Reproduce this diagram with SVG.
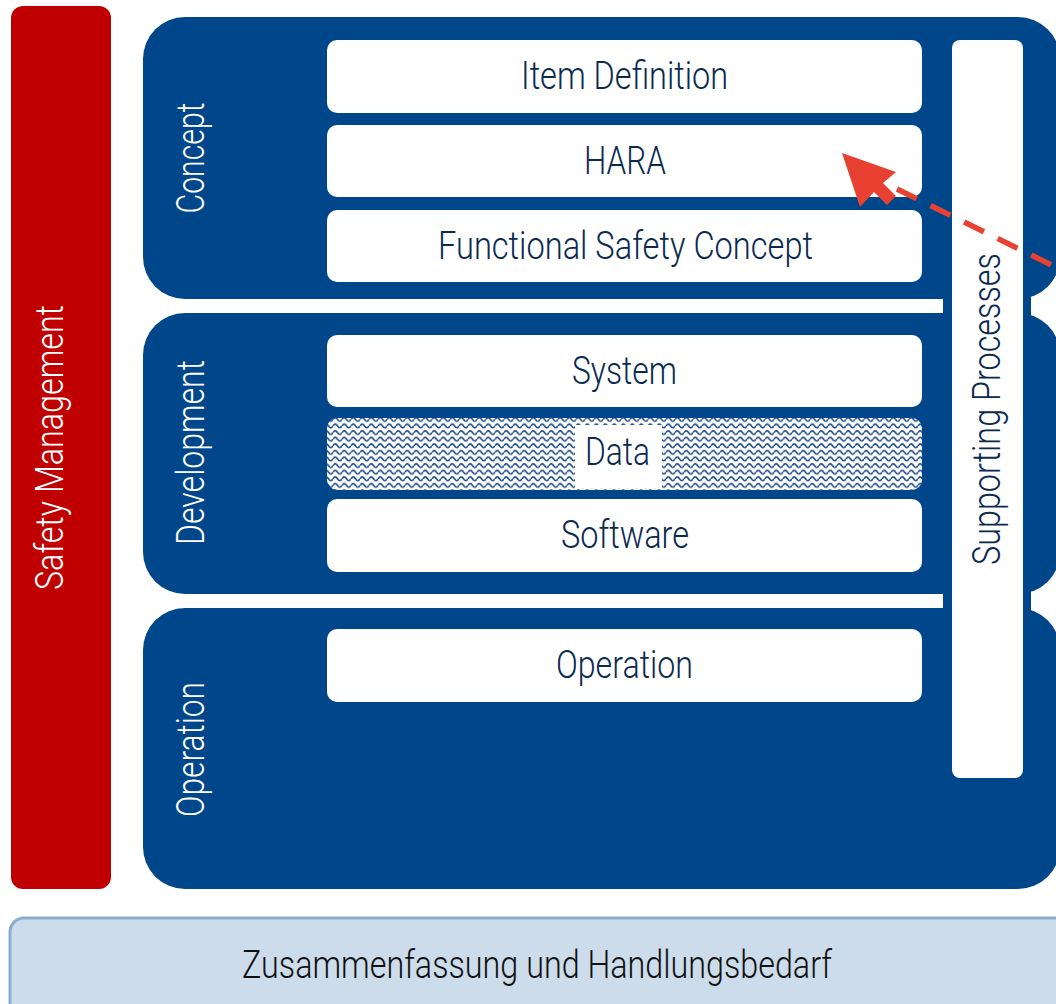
<svg xmlns="http://www.w3.org/2000/svg" width="1056" height="1004" viewBox="0 0 1056 1004">
<defs>
<style>
.panel{fill:#00468A}
.box{fill:#ffffff}
.lbl{font-family:Roboto,"Liberation Sans",sans-serif;font-weight:300;font-size:38px;fill:#0B2A50;text-anchor:middle}
.vlbl{font-family:Roboto,"Liberation Sans",sans-serif;font-weight:300;font-size:38px;fill:#ffffff;text-anchor:middle}
.slbl{font-family:Roboto,"Liberation Sans",sans-serif;font-weight:300;font-size:38px;fill:#0B2A50;text-anchor:middle}
.blbl{font-family:Roboto,"Liberation Sans",sans-serif;font-weight:300;font-size:38px;fill:#111111;text-anchor:middle}
</style>
<pattern id="wave" patternUnits="userSpaceOnUse" width="9" height="6.6">
<rect width="9" height="6.6" fill="#ffffff"/>
<path d="M0,3.6 C1.5,1.2 3,1.2 4.5,3.6 S7.5,6 9,3.6" fill="none" stroke="#1F4E8C" stroke-width="1.6"/>
</pattern>
</defs>

<g id="safety-management">
<rect x="11" y="6" width="100" height="883" rx="12" fill="#C00000"/>
<text class="vlbl" transform="translate(63,447.5) rotate(-90)" textLength="285" lengthAdjust="spacingAndGlyphs">Safety Management</text>
</g>

<g id="panel-bridge">
<rect x="943" y="60" width="88" height="800" class="panel"/>
</g>

<g id="concept">
<rect x="143" y="17" width="917" height="282" rx="42" class="panel"/>
<text class="vlbl" transform="translate(204,158) rotate(-90)" textLength="111" lengthAdjust="spacingAndGlyphs">Concept</text>
</g>
<g id="development">
<rect x="143" y="313" width="917" height="281" rx="42" class="panel"/>
<text class="vlbl" transform="translate(204,452.5) rotate(-90)" textLength="185" lengthAdjust="spacingAndGlyphs">Development</text>
</g>
<g id="operation-phase">
<rect x="143" y="608" width="917" height="281" rx="42" class="panel"/>
<text class="vlbl" transform="translate(204,749.5) rotate(-90)" textLength="135" lengthAdjust="spacingAndGlyphs">Operation</text>
</g>

<g id="item-definition">
<rect x="327" y="40" width="595" height="73" rx="10" class="box"/>
<text class="lbl" x="624.5" y="88.5" textLength="207" lengthAdjust="spacingAndGlyphs">Item Definition</text>
</g>
<g id="hara">
<rect x="327" y="125" width="595" height="72" rx="10" class="box"/>
<text class="lbl" x="625" y="173.5" textLength="82" lengthAdjust="spacingAndGlyphs">HARA</text>
</g>
<g id="fsc">
<rect x="327" y="210" width="595" height="72" rx="10" class="box"/>
<text class="lbl" x="625.5" y="258.5" textLength="375" lengthAdjust="spacingAndGlyphs">Functional Safety Concept</text>
</g>
<g id="system">
<rect x="327" y="335" width="595" height="72" rx="10" class="box"/>
<text class="lbl" x="624.5" y="383.5" textLength="105" lengthAdjust="spacingAndGlyphs">System</text>
</g>
<g id="data">
<rect x="327" y="418" width="595" height="72" rx="10" fill="url(#wave)"/>
<rect x="575" y="425" width="87" height="63" fill="#ffffff"/>
<text class="lbl" x="617.5" y="465" textLength="65" lengthAdjust="spacingAndGlyphs">Data</text>
</g>
<g id="software">
<rect x="327" y="499" width="595" height="73" rx="10" class="box"/>
<text class="lbl" x="625" y="548" textLength="128" lengthAdjust="spacingAndGlyphs">Software</text>
</g>
<g id="operation">
<rect x="327" y="629" width="595" height="73" rx="10" class="box"/>
<text class="lbl" x="624.5" y="677.5" textLength="137" lengthAdjust="spacingAndGlyphs">Operation</text>
</g>

<g id="supporting-processes">
<rect x="952" y="40" width="71" height="738" rx="8" class="box"/>
<text class="slbl" transform="translate(1000,409) rotate(-90)" textLength="312" lengthAdjust="spacingAndGlyphs">Supporting Processes</text>
</g>

<g id="summary">
<rect x="10" y="918" width="1060" height="100" rx="14" fill="#CCDCEB" stroke="#89ADD0" stroke-width="3"/>
<text class="blbl" x="537" y="978" textLength="590" lengthAdjust="spacingAndGlyphs">Zusammenfassung und Handlungsbedarf</text>
</g>

<g id="connectors">
<path d="M897,189 L1072,275" fill="none" stroke="#E84132" stroke-width="5.5" stroke-dasharray="22 15.4"/>
<polygon points="842,153 896,172 883,183 896,196 887,205 874,192 860,207" fill="#E84132"/>
</g>
</svg>
